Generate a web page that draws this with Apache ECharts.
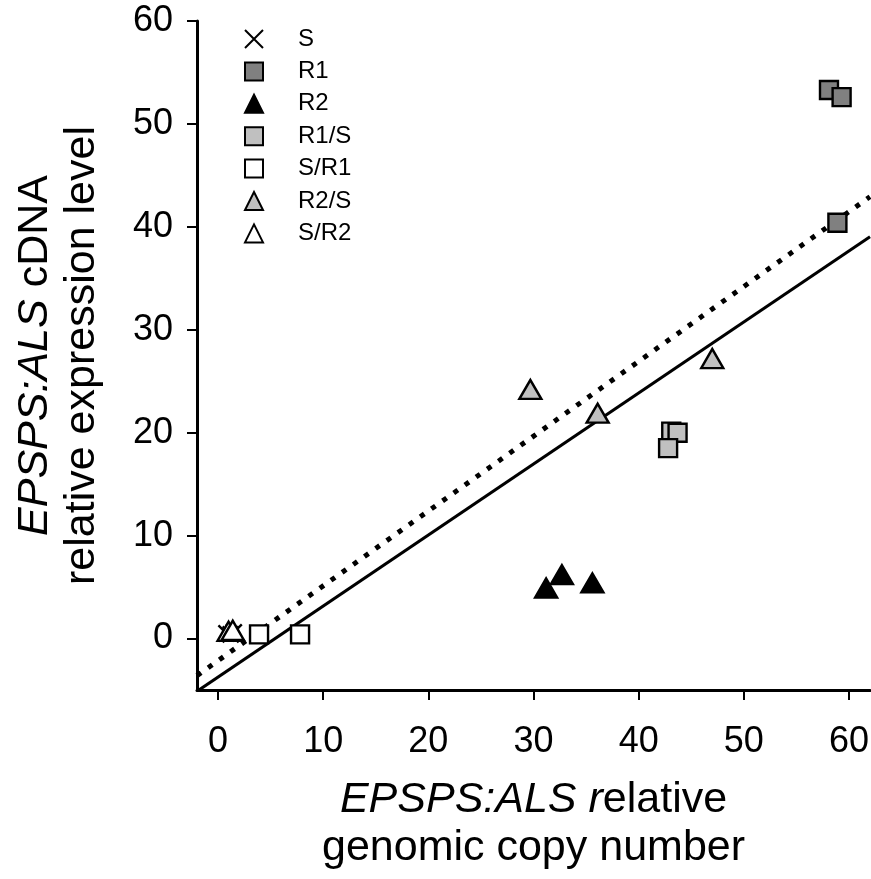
<!DOCTYPE html>
<html>
<head>
<meta charset="utf-8">
<script src="https://cdn.jsdelivr.net/npm/echarts@6/dist/echarts.min.js"></script>
<style>
  html, body { margin: 0; padding: 0; background: #fff; }
  #chart { width: 871px; height: 879px; }
</style>
</head>
<body>
<div id="chart"></div>
<script>
// Genotype groups: [genomic copy number, cDNA expression level]
var seriesNames = ['S', 'R1', 'R2', 'R1/S', 'S/R1', 'R2/S', 'S/R2'];
var S    = [[0.8, 0.5], [1.2, 0.4], [1.5, 0.6]];
var R1   = [[58.1, 53.3], [59.3, 52.6], [58.9, 40.4]];
var R2   = [[31.2, 4.9], [32.7, 6.2], [35.6, 5.4]];
var R1_S = [[43.1, 20.1], [43.7, 20.0], [42.8, 18.5]];
var S_R1 = [[3.9, 0.4], [7.8, 0.4]];
var R2_S = [[29.7, 24.2], [36.1, 21.9], [47.0, 27.2]];
var S_R2 = [[1.0, 0.7], [1.4, 0.8]];

// Fitted lines: y = slope * x + intercept
var solidFit  = { slope: 0.69,  intercept: -3.75 };
var dottedFit = { slope: 0.727, intercept: -2.15 };

var xTicks = [0, 10, 20, 30, 40, 50, 60];
var yTicks = [0, 10, 20, 30, 40, 50, 60];
var xRange = [-2, 62];
var yRange = [-5, 60];

var FONT = '"Liberation Sans", Arial, Helvetica, sans-serif';
var TITLE_SIZE = 43;
var crossPath = 'path://M0,0L10,10M10,0L0,10';

function fitLine(fit) {
  return xRange.map(function (x) { return [x, fit.slope * x + fit.intercept]; });
}

function scatter(name, data, symbol, size, fill) {
  return {
    name: name,
    type: 'scatter',
    data: data,
    symbol: symbol,
    symbolSize: size,
    itemStyle: {
      color: fill,
      borderColor: '#000',
      borderWidth: 2.4,
      opacity: 1
    },
    z: 3
  };
}

var chart = echarts.init(document.getElementById('chart'), null, { renderer: 'canvas' });

chart.setOption({
  animation: false,
  backgroundColor: '#fff',
  grid: { left: 197, right: 1, top: 21, bottom: 189, outerBoundsMode: 'none', containLabel: false },
  legend: {
    orient: 'vertical',
    left: 244,
    top: 27,
    padding: 0,
    itemWidth: 18,
    itemHeight: 18,
    itemGap: 8.4,
    selectedMode: false,
    textStyle: {
      fontFamily: FONT,
      fontSize: 24,
      color: '#000',
      lineHeight: 20,
      padding: [0, 0, 0, 30]
    },
    data: [
      { name: 'S', icon: crossPath, itemStyle: { color: 'transparent', borderColor: '#000', borderWidth: 2 } },
      { name: 'R1', icon: 'rect' },
      { name: 'R2', icon: 'triangle' },
      { name: 'R1/S', icon: 'rect' },
      { name: 'S/R1', icon: 'rect' },
      { name: 'R2/S', icon: 'triangle' },
      { name: 'S/R2', icon: 'triangle' }
    ]
  },
  xAxis: {
    type: 'value',
    min: xRange[0],
    max: xRange[1],
    splitLine: { show: false },
    axisLine: { show: true, onZero: false, lineStyle: { color: '#000', width: 3 } },
    axisTick: { show: true, customValues: xTicks, length: 10, lineStyle: { color: '#000', width: 2 } },
    axisLabel: {
      customValues: xTicks,
      fontFamily: FONT, fontSize: 36, color: '#000', margin: 34
    },
    name: '{i|EPSPS:ALS r}{n|elative}\n{n|genomic copy number}',
    nameLocation: 'middle',
    nameGap: 86,
    nameMoveOverlap: false,
    nameTextStyle: {
      fontFamily: FONT,
      lineHeight: 48,
      rich: {
        i: { fontFamily: FONT, fontSize: TITLE_SIZE, fontStyle: 'italic', color: '#000', lineHeight: 48 },
        n: { fontFamily: FONT, fontSize: TITLE_SIZE, color: '#000', lineHeight: 48 }
      }
    }
  },
  yAxis: {
    type: 'value',
    min: yRange[0],
    max: yRange[1],
    splitLine: { show: false },
    axisLine: { show: true, onZero: false, lineStyle: { color: '#000', width: 3 } },
    axisTick: { show: true, customValues: yTicks, length: 10, lineStyle: { color: '#000', width: 2 } },
    axisLabel: {
      customValues: yTicks,
      fontFamily: FONT, fontSize: 36, color: '#000', margin: 24
    },
    name: '{i|EPSPS:ALS}{n| cDNA}\n{n|relative expression level}',
    nameLocation: 'middle',
    nameRotate: 90,
    nameGap: 91,
    nameMoveOverlap: false,
    nameTextStyle: {
      fontFamily: FONT,
      lineHeight: 47,
      rich: {
        i: { fontFamily: FONT, fontSize: TITLE_SIZE, fontStyle: 'italic', color: '#000', lineHeight: 47 },
        n: { fontFamily: FONT, fontSize: TITLE_SIZE, color: '#000', lineHeight: 47 }
      }
    }
  },
  series: [
    {
      name: 'fit-solid',
      type: 'line',
      data: fitLine(solidFit),
      symbol: 'none',
      clip: true,
      lineStyle: { color: '#000', width: 3 },
      z: 2
    },
    {
      name: 'fit-dotted',
      type: 'line',
      data: fitLine(dottedFit),
      symbol: 'none',
      clip: true,
      lineStyle: { color: '#000', width: 5, type: [5, 8.7], cap: 'butt' },
      z: 2
    },
    scatter('S', S, crossPath, 16, 'transparent'),
    scatter('R1', R1, 'rect', 18, '#808080'),
    scatter('R2', R2, 'triangle', [22, 19], '#000'),
    scatter('R1/S', R1_S, 'rect', 18, '#c0c0c0'),
    scatter('S/R1', S_R1, 'rect', 18, '#fff'),
    scatter('R2/S', R2_S, 'triangle', [22, 19], '#c0c0c0'),
    scatter('S/R2', S_R2, 'triangle', [22, 19], '#fff')
  ]
});
</script>
</body>
</html>
